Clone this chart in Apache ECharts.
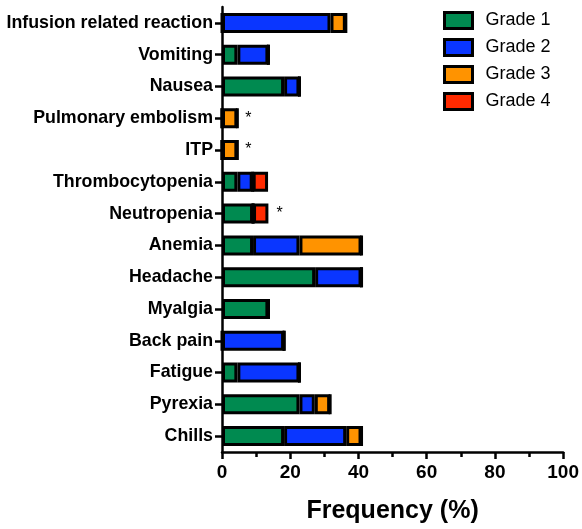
<!DOCTYPE html>
<html><head><meta charset="utf-8">
<script src="https://cdn.jsdelivr.net/npm/echarts@6/dist/echarts.min.js"></script>
<style>html,body{margin:0;padding:0;background:#fff}#c{width:582px;height:529px}</style>
</head><body><div id="c"></div>
<script>
const categories = ['Infusion related reaction','Vomiting','Nausea','Pulmonary embolism','ITP','Thrombocytopenia','Neutropenia','Anemia','Headache','Myalgia','Back pain','Fatigue','Pyrexia','Chills'];
const grade1 = [0, 4.5, 18.2, 0, 0, 4.5, 9.1, 9.1, 27.3, 13.6, 0, 4.5, 22.7, 18.2];
const grade2 = [31.8, 9.1, 4.5, 0, 0, 4.5, 0, 13.6, 13.6, 0, 18.2, 18.2, 4.5, 18.2];
const grade3 = [4.5, 0, 0, 4.5, 4.5, 0, 0, 18.2, 0, 0, 0, 0, 4.5, 4.5];
const grade4 = [0, 0, 0, 0, 0, 4.5, 4.5, 0, 0, 0, 0, 0, 0, 0];
const marks = ['', '', '', '*', '*', '', '*', '', '', '', '', '', '', ''];
const seriesNames = ['Grade 1','Grade 2','Grade 3','Grade 4'];
const colors = ['#008A50','#0A36FF','#FF9300','#FF2A00'];
const xTicks = [0, 20, 40, 60, 80, 100];

const all = [grade1, grade2, grade3, grade4];
function dataFor(si) {
  return all[si].map((v, i) => {
    let last = -1;
    all.forEach((arr, k) => { if (arr[i] > 0) last = k; });
    const item = { value: v };
    if (marks[i] && last === si) {
      item.label = { show: true, position: 'right', distance: 8, formatter: marks[i],
        color: '#000', fontSize: 16, fontFamily: 'Liberation Sans', offset: [0, 0] };
    }
    return item;
  });
}

const chart = echarts.init(document.getElementById('c'));
chart.setOption({
  animation: false,
  color: colors,
  grid: { left: 222, right: 16, top: 7, height: 446, containLabel: false },
  legend: {
    orient: 'vertical', left: 438, top: 6, itemWidth: 28, itemHeight: 16, itemGap: 8,
    icon: 'rect',
    data: seriesNames,
    textStyle: { fontSize: 18, fontFamily: 'Liberation Sans', color: '#000', padding: [0, 0, 0, 8] },
    itemStyle: { borderColor: '#000', borderWidth: 3 }
  },
  xAxis: {
    type: 'value', min: xTicks[0], max: xTicks[xTicks.length - 1], interval: 20,
    name: 'Frequency (%)', nameLocation: 'middle', nameGap: 47,
    nameTextStyle: { fontSize: 25, fontWeight: 'bold', fontFamily: 'Liberation Sans', color: '#000' },
    axisLine: { show: true, lineStyle: { color: '#000', width: 2.5 } },
    axisTick: { show: true, length: 7, lineStyle: { color: '#000', width: 2.5 } },
    minorTick: { show: true, splitNumber: 2, length: 5, lineStyle: { color: '#000', width: 2.5 } },
    axisLabel: { fontSize: 19, fontWeight: 'bold', fontFamily: 'Liberation Sans', color: '#000', margin: 11 },
    splitLine: { show: false }
  },
  yAxis: {
    type: 'category', inverse: true, data: categories,
    axisLine: { show: true, lineStyle: { color: '#000', width: 2.5 } },
    axisTick: { show: true, alignWithLabel: true, length: 7, lineStyle: { color: '#000', width: 2.5 } },
    axisLabel: { fontSize: 17.8, fontWeight: 'bold', fontFamily: 'Liberation Sans', color: '#000', margin: 9 }
  },
  series: seriesNames.map((n, si) => ({
    name: n, type: 'bar', stack: 'total', barWidth: 20,
    itemStyle: { color: colors[si], borderColor: '#000', borderWidth: 3 },
    data: dataFor(si)
  }))
});
</script></body></html>
